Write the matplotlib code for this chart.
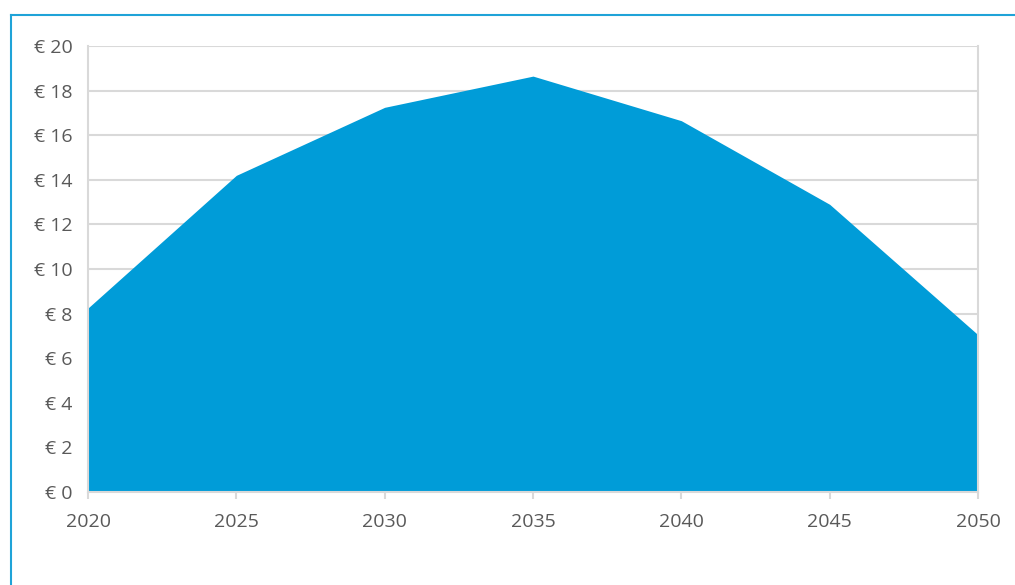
import matplotlib
matplotlib.use("Agg")
import matplotlib.pyplot as plt
from matplotlib.lines import Line2D

years = [2020, 2025, 2030, 2035, 2040, 2045, 2050]
values = [8.25, 14.2, 17.25, 18.65, 16.65, 12.9, 7.05]
yticks = [0, 2, 4, 6, 8, 10, 12, 14, 16, 18, 20]
ytick_labels = [f"€ {v}" for v in yticks]

plt.rcParams['font.family'] = ['Open Sans', 'DejaVu Sans']

W, H = 1015, 585
fig = plt.figure(figsize=(W / 100, H / 100), dpi=100)
ax = fig.add_axes([88 / W, (H - 492) / H, (978 - 88) / W, (492 - 46) / H])

grid_c = '#d9d9d9'
text_c = '#595959'
ax.fill_between(years, values, 0, color='#009cd8', linewidth=0, zorder=2)
ax.set_xlim(2020, 2050)
ax.set_ylim(0, 20)
ax.set_yticks(yticks)
ax.set_yticklabels(ytick_labels)
ax.set_xticks(years)
ax.set_xticklabels([str(y) for y in years])
ax.yaxis.grid(True, color=grid_c, linewidth=1.5, zorder=1)
ax.set_axisbelow(True)
for s in ['left', 'right', 'top', 'bottom']:
    ax.spines[s].set_color(grid_c)
    ax.spines[s].set_linewidth(1.5)
ax.spines['top'].set_visible(False)
ax.tick_params(axis='y', length=0, pad=11, labelsize=14, labelcolor=text_c)
ax.tick_params(axis='x', length=5, width=1.5, color=grid_c, pad=10, labelsize=14, labelcolor=text_c)

# outer frame lines
fig.add_artist(Line2D([11 / W, 11 / W], [0, 1 - 15 / H], transform=fig.transFigure, color='#1fa3d8', linewidth=1.5))
fig.add_artist(Line2D([11 / W, 1], [1 - 15 / H, 1 - 15 / H], transform=fig.transFigure, color='#1fa3d8', linewidth=1.5))

fig.savefig('out.png', dpi=100)
